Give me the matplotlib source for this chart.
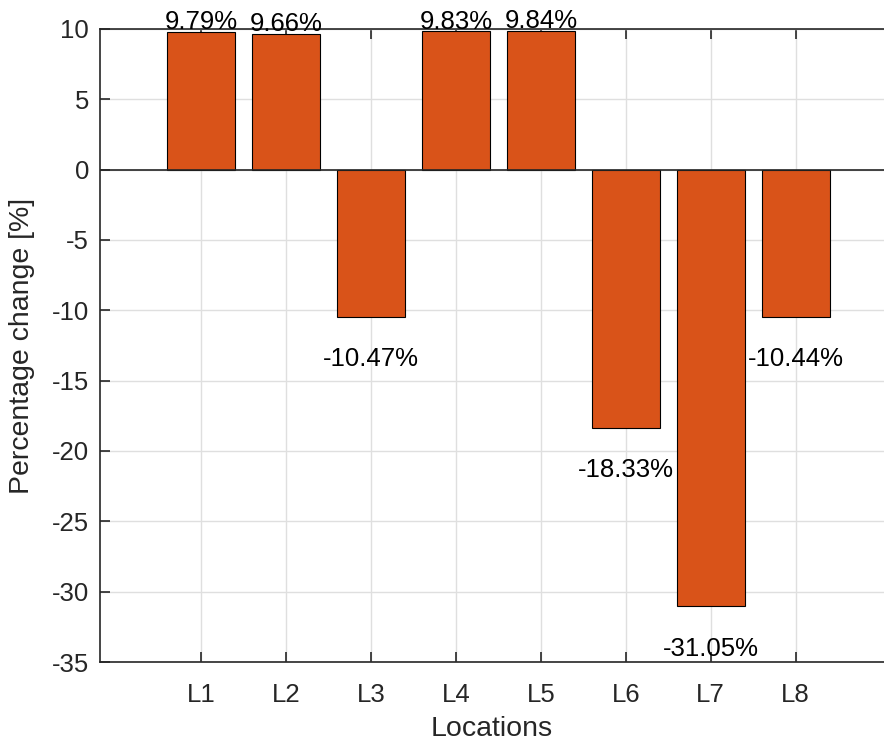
import numpy as np
import matplotlib.pyplot as plt

plt.rcParams['font.family'] = ['Liberation Sans', 'DejaVu Sans']
plt.rcParams['axes.unicode_minus'] = False

locations = ['L1', 'L2', 'L3', 'L4', 'L5', 'L6', 'L7', 'L8']
change = [9.79, 9.66, -10.47, 9.83, 9.84, -18.33, -31.05, -10.44]

fig = plt.figure(figsize=(8.84, 7.44), dpi=100)
ax = fig.add_axes([100/884, 1 - 662/744, 1 - 100/884, (662 - 29)/744])

x = np.arange(1, len(locations) + 1)
ax.bar(x, change, width=0.8, color='#D95319', edgecolor='black', linewidth=0.8, zorder=3)
ax.axhline(0, color='#262626', linewidth=1.2, zorder=4)

for xi, v in zip(x, change):
    if v >= 0:
        ax.text(xi, v - 0.15, f"{v:.2f}%", ha='center', va='bottom', fontsize=18.5, clip_on=False, zorder=5)
    else:
        ax.text(xi, v - 3, f"{v:.2f}%", ha='center', va='center', fontsize=18.5, clip_on=False, zorder=5)

ax.set_xlim(-0.19, 9.04)
ax.set_ylim(-35, 10)
ax.set_xticks(x)
ax.set_xticklabels(locations)
ax.set_yticks(np.arange(-35, 11, 5))
ax.tick_params(direction='in', length=7, width=1.2, colors='#262626', labelsize=18.5,
               top=True, labelcolor='#262626', pad=8)
ax.tick_params(axis='x', pad=15)
ax.grid(True, color='#DFDFDF', linewidth=1, zorder=0)
ax.set_axisbelow(True)
for s in ['left', 'bottom', 'top']:
    ax.spines[s].set_color('#262626')
    ax.spines[s].set_linewidth(1.2)
ax.spines['right'].set_visible(False)

ax.set_xlabel('Locations', fontsize=20.5, color='#262626')
ax.set_ylabel('Percentage change [%]', fontsize=20.5, color='#262626')
ax.xaxis.set_label_coords(0.5, -0.086)
ax.yaxis.set_label_coords(-0.083, 0.5)

fig.savefig('out.png', dpi=100)
